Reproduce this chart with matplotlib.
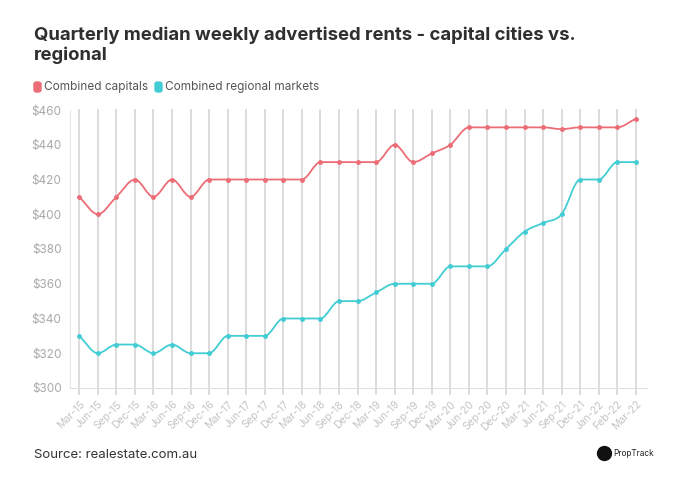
import numpy as np
import matplotlib.pyplot as plt
from matplotlib.path import Path
from matplotlib.patches import PathPatch, FancyBboxPatch
from matplotlib.lines import Line2D

quarters = ['Mar-15', 'Jun-15', 'Sep-15', 'Dec-15', 'Mar-16', 'Jun-16', 'Sep-16', 'Dec-16',
            'Mar-17', 'Jun-17', 'Sep-17', 'Dec-17', 'Mar-18', 'Jun-18', 'Sep-18', 'Dec-18',
            'Mar-19', 'Jun-19', 'Sep-19', 'Dec-19', 'Mar-20', 'Jun-20', 'Sep-20', 'Dec-20',
            'Mar-21', 'Jun-21', 'Sep-21', 'Dec-21', 'Jan-22', 'Feb-22', 'Mar-22']
capitals = [410, 400, 410, 420, 410, 420, 410, 420, 420, 420, 420, 420, 420, 430, 430, 430,
            430, 440, 430, 435, 440, 450, 450, 450, 450, 450, 449, 450, 450, 450, 455]
regional = [330, 320, 325, 325, 320, 325, 320, 320, 330, 330, 330, 340, 340, 340, 350, 350,
            355, 360, 360, 360, 370, 370, 370, 380, 390, 395, 400, 420, 420, 430, 430]
y_ticks = [300, 320, 340, 360, 380, 400, 420, 440, 460]

red = '#ec6d76'
cyan = '#42cdd4'

plt.rcParams['font.family'] = ['Inter', 'DejaVu Sans']


def smooth_path(xs, ys):
    # monotone cubic (Fritsch-Carlson) drawn as bezier segments
    xs = np.asarray(xs, float)
    ys = np.asarray(ys, float)
    h = np.diff(xs)
    d = np.diff(ys) / h
    m = np.zeros(len(ys))
    m[0], m[-1] = d[0], d[-1]
    for i in range(1, len(ys) - 1):
        if d[i - 1] * d[i] > 0:
            m[i] = (d[i - 1] + d[i]) / 2
    for i in range(len(d)):
        if d[i] == 0:
            m[i] = m[i + 1] = 0
        else:
            a, b = m[i] / d[i], m[i + 1] / d[i]
            s = a * a + b * b
            if s > 9:
                t = 3 / np.sqrt(s)
                m[i], m[i + 1] = t * a * d[i], t * b * d[i]
    verts = [(xs[0], ys[0])]
    codes = [Path.MOVETO]
    for i in range(len(d)):
        verts += [(xs[i] + h[i] / 3, ys[i] + m[i] * h[i] / 3),
                  (xs[i + 1] - h[i] / 3, ys[i + 1] - m[i + 1] * h[i] / 3),
                  (xs[i + 1], ys[i + 1])]
        codes += [Path.CURVE4] * 3
    return Path(verts, codes)


fig = plt.figure(figsize=(6.77, 4.82), dpi=100)
ax = fig.add_axes([70 / 677, 1 - 388 / 482, 577 / 677, 278 / 482])

x = np.arange(len(quarters))
for i in x:
    ax.axvline(i, ymin=-0.02, ymax=1, color='#d6d6d6', lw=1.2, zorder=0, clip_on=False)

for vals, col in [(capitals, red), (regional, cyan)]:
    ax.add_patch(PathPatch(smooth_path(x, vals), facecolor='none', edgecolor=col, lw=1.3, zorder=3))
    ax.plot(x, vals, 'o', color=col, ms=2.5, zorder=4)

ax.set_xlim(-0.5, 30.6)
ax.set_ylim(300, 460)
ax.set_yticks(y_ticks)
ax.set_yticklabels(['$%d' % v for v in y_ticks], color='#a9a9a9', fontsize=8.5)
ax.set_xticks(x)
ax.set_xticklabels(quarters, rotation=45, ha='right', rotation_mode='anchor',
                   color='#c4c4c4', fontsize=7.5)
ax.tick_params(length=0, pad=6)
ax.tick_params(axis='x', pad=8)
for s in ['top', 'right']:
    ax.spines[s].set_visible(False)
ax.spines['left'].set_color('#e6e6e6')
ax.spines['bottom'].set_color('#e0e0e0')

fig.text(34 / 677, 1 - 26 / 482, 'Quarterly median weekly advertised rents - capital cities vs.\nregional',
         fontsize=13.3, fontweight='bold', color='#2f2f2f', va='top', ha='left', linespacing=1.2)

# legend
for lx, col, label in [(34, red, 'Combined capitals'), (155, cyan, 'Combined regional markets')]:
    fig.patches.append(FancyBboxPatch((lx / 677, 1 - 92 / 482), 7 / 677, 10 / 482,
                                      boxstyle='round,pad=0,rounding_size=0.004',
                                      transform=fig.transFigure, color=col))
    fig.text((lx + 10) / 677, 1 - 87 / 482, label, fontsize=8.5, color='#555555', va='center')

fig.text(34 / 677, 1 - 455 / 482, 'Source: realestate.com.au', fontsize=9.5, color='#333333', va='center')
fig.text(613 / 677, 1 - 453 / 482, 'PropTrack', fontsize=6, color='#222222', va='center')
fig.add_artist(Line2D([604 / 677], [1 - 453 / 482], marker='o', ms=10, color='#111111',
                      transform=fig.transFigure))

fig.savefig('out.png', dpi=100, facecolor='white')
